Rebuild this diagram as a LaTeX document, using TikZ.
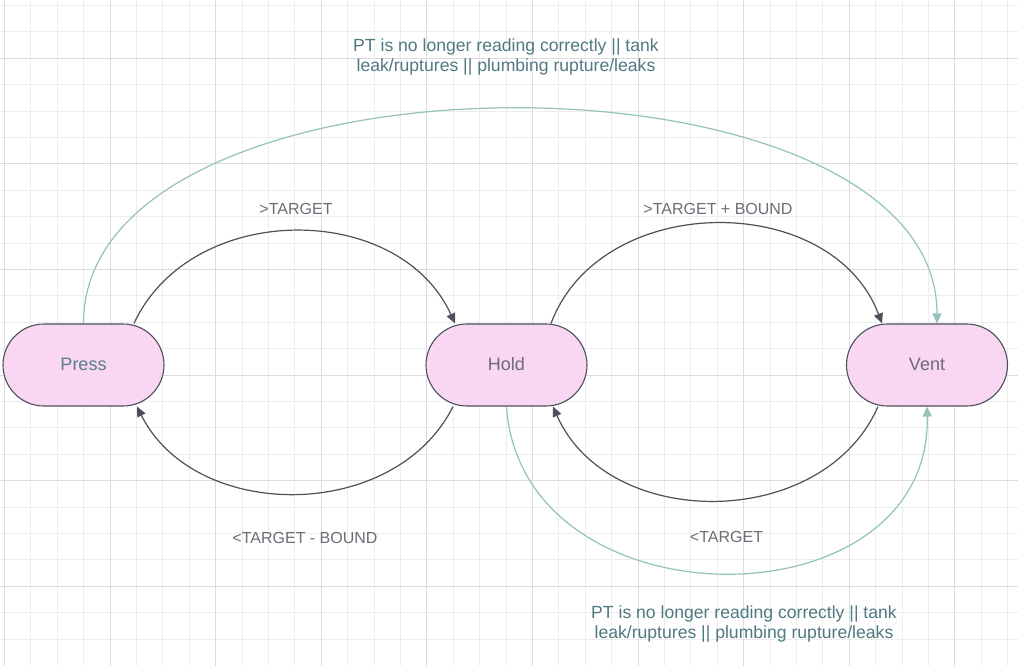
\documentclass[tikz,border=0pt]{standalone}
\usepackage{fontspec}
\setmainfont{Liberation Sans}
\usetikzlibrary{arrows.meta}
\definecolor{gridminor}{HTML}{EDEDED}
\definecolor{gridmajor}{HTML}{DCDCDC}
\definecolor{edgedark}{HTML}{4B505A}
\definecolor{edgeteal}{HTML}{93C3BA}
\definecolor{nodefill}{HTML}{F9D7F2}
\definecolor{presstext}{HTML}{5A7B87}
\definecolor{nodetext}{HTML}{6E6878}
\definecolor{labgrey}{HTML}{6B6E76}
\definecolor{labteal}{HTML}{4E7A80}
\begin{document}
\begin{tikzpicture}[x=1pt,y=-1pt,
  state/.style={draw=edgedark, line width=1.1pt, fill=nodefill, rounded corners=41pt,
    minimum width=161pt, minimum height=82pt, inner sep=0pt,
    font=\fontsize{18}{22}\selectfont, text=nodetext},
  darkedge/.style={draw=edgedark, line width=1.2pt, -{Triangle[length=10pt,width=9pt]}},
  tealedge/.style={draw=edgeteal, line width=1.2pt, -{Triangle[length=10pt,width=9pt]}},
  lab/.style={font=\fontsize{16}{21}\selectfont, text=labgrey, inner sep=0pt},
  note/.style={font=\fontsize{17.6}{20.6}\selectfont, text=labteal, align=center, inner sep=0pt},
  gminor/.style={draw=gridminor, line width=1pt},
  gmajor/.style={draw=gridmajor, line width=1pt}
]
\useasboundingbox (0,0) rectangle (1018,666);
\fill[white] (0,0) rectangle (1018,666);
% grid
\foreach \i in {0,...,38} { \draw[gminor] (4.5+26.4*\i,0) -- (4.5+26.4*\i,666); }
\foreach \i in {0,...,24} { \draw[gminor] (0,5.5+26.4*\i) -- (1018,5.5+26.4*\i); }
\foreach \i in {0,...,9} { \draw[gmajor] (4.5+105.6*\i,0) -- (4.5+105.6*\i,666); }
\foreach \i in {0,...,5} { \draw[gmajor] (0,58.3+105.6*\i) -- (1018,58.3+105.6*\i); }

% nodes
\node[state, text=presstext] (press) at (83.5,365) {\raisebox{2pt}{Press}};
\node[state] (hold) at (506.5,365) {\raisebox{2pt}{Hold}};
\node[state] (vent) at (927,365) {\raisebox{2pt}{Vent}};

% edges
\draw[tealedge] (press.north) .. controls +(0,-286) and +(0,-286) .. ([xshift=10pt]vent.north);
\draw[darkedge] ([xshift=50.5pt]press.north) .. controls +(57,-123) and +(-56,-123) .. ([xshift=-51.5pt]hold.north);
\draw[darkedge] ([xshift=44.5pt]hold.north) .. controls +(50,-133) and +(-50,-133) .. ([xshift=-45pt]vent.north);
\draw[darkedge] ([xshift=-49pt]vent.south) .. controls +(-55,125) and +(55,125) .. ([xshift=46.5pt]hold.south);
\draw[darkedge] ([xshift=-53.5pt]hold.south) .. controls +(-58,116) and +(58,116) .. ([xshift=53.5pt]press.south);
\draw[tealedge] (hold.south) .. controls +(15,222) and +(5,222) .. (vent.south);

% labels
\node[note] (topnote) at (506,57) {PT is no longer reading correctly || tank\\leak/ruptures || plumbing rupture/leaks};
\node[note] (botnote) at (744,624) {PT is no longer reading correctly || tank\\leak/ruptures || plumbing rupture/leaks};
\node[lab] (l1) at (296,209) {>TARGET};
\node[lab] (l2) at (718,209) {>TARGET + BOUND};
\node[lab] (l3) at (305,537.5) {<TARGET - BOUND};
\node[lab] (l4) at (726.5,537) {<TARGET};
\end{tikzpicture}
\end{document}
